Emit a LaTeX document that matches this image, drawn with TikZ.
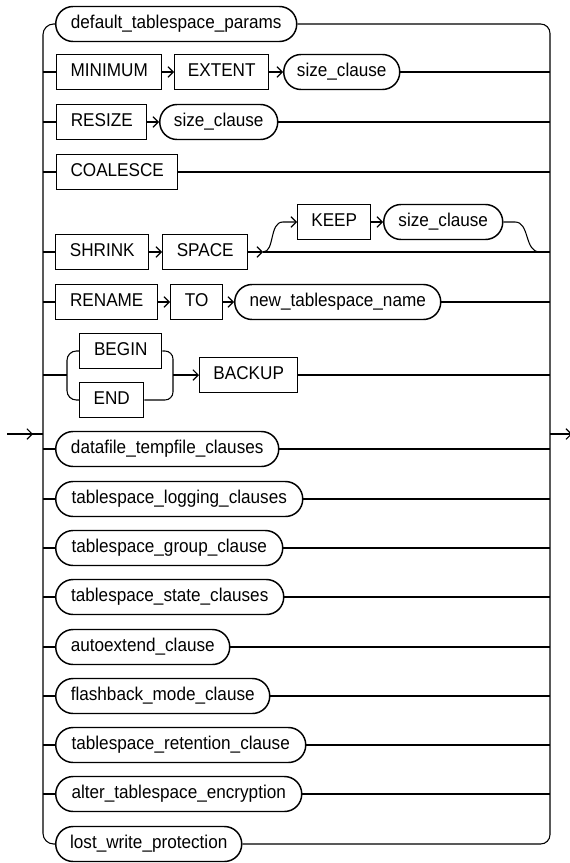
\documentclass[tikz,border=0pt]{standalone}
\usepackage{fontspec}
\setmainfont{Liberation Sans}
\newfontfamily\diafont[FakeStretch=0.925]{Liberation Sans}
\usetikzlibrary{arrows.meta}
\begin{document}
\begin{tikzpicture}[x=0.75pt,y=-0.75pt,
  line/.style={line width=0.8pt},
  arr/.style={line, -{Straight Barb[length=4pt,width=8pt]}},
  term/.style={draw, line width=1.1pt, rectangle, minimum height=26.25pt, inner sep=0pt, anchor=west, text height=9.9pt, text depth=2.9pt, font=\diafont\fontsize{13.9}{16}\selectfont},
  nterm/.style={term, rounded corners=13pt},
]
\useasboundingbox (0,0) rectangle (570,863);
\coordinate (L) at (43,0);
\coordinate (R) at (550,0);

% nodes
\node[nterm, minimum width=241*0.75pt] (n1) at (55,24) {default\_tablespace\_params};
\node[term, minimum width=105*0.75pt] (min) at (56,72) {MINIMUM};
\node[term, minimum width=94*0.75pt] (ext) at (174,72) {EXTENT};
\node[nterm, minimum width=116*0.75pt] (sc1) at (283,72) {size\_clause};
\node[term, minimum width=90*0.75pt] (res) at (56,122) {RESIZE};
\node[nterm, minimum width=118*0.75pt] (sc2) at (159,122) {size\_clause};
\node[term, minimum width=121*0.75pt] (coa) at (56,172) {COALESCE};
\node[term, minimum width=93*0.75pt] (shr) at (55,252) {SHRINK};
\node[term, minimum width=85*0.75pt] (spa) at (162,252) {SPACE};
\node[term, minimum width=73*0.75pt] (keep) at (297,222) {KEEP};
\node[nterm, minimum width=119*0.75pt] (sc3) at (383,222) {size\_clause};
\node[term, minimum width=102*0.75pt] (ren) at (55,302) {RENAME};
\node[term, minimum width=52*0.75pt] (to) at (170,302) {TO};
\node[nterm, minimum width=206*0.75pt] (ntn) at (234,302) {new\_tablespace\_name};
\node[term, minimum width=82*0.75pt] (beg) at (79,351) {BEGIN};
\node[term, minimum width=64*0.75pt] (end) at (79,400) {END};
\node[term, minimum width=98*0.75pt] (bak) at (199,375) {BACKUP};
\node[nterm, minimum width=223*0.75pt] (dtc) at (55,449) {datafile\_tempfile\_clauses};
\node[nterm, minimum width=247*0.75pt] (tlc) at (55,499) {tablespace\_logging\_clauses};
\node[nterm, minimum width=227*0.75pt] (tgc) at (55,548) {tablespace\_group\_clause};
\node[nterm, minimum width=228*0.75pt] (tsc) at (55,597) {tablespace\_state\_clauses};
\node[nterm, minimum width=174*0.75pt] (aec) at (55,647) {autoextend\_clause};
\node[nterm, minimum width=214*0.75pt] (fmc) at (55,696) {flashback\_mode\_clause};
\node[nterm, minimum width=250*0.75pt] (trc) at (55,745) {tablespace\_retention\_clause};
\node[nterm, minimum width=246*0.75pt] (ate) at (55,794) {alter\_tablespace\_encryption};
\node[nterm, minimum width=186*0.75pt] (lwp) at (55,844) {lost\_write\_protection};

% entry and exit
\coordinate (start) at (7,434);
\coordinate (tip) at (33,434);
\coordinate (ex) at (572,434);
\draw[line] (start) -- (start -| L);
\draw[arr] (start) -- (tip);
\draw[arr] (R |- start) -- (ex);

% rails
\draw[line, rounded corners=8pt] (n1.west) -| (L |- start) |- (lwp.west);
\draw[line, rounded corners=7pt] (n1.east) -| (R |- start) |- (lwp.east);

% left stubs
\foreach \n in {min,res,coa,shr,ren,dtc,tlc,tgc,tsc,aec,fmc,trc,ate}
  \draw[line] (\n.west -| L) -- (\n.west);
% right stubs
\foreach \n in {sc1,sc2,coa,ntn,bak,dtc,tlc,tgc,tsc,aec,fmc,trc,ate}
  \draw[line] (\n.east) -- (\n.east -| R);

% sequences
\draw[arr] (min) -- (ext);
\draw[arr] (ext) -- (sc1);
\draw[arr] (res) -- (sc2);
\draw[arr] (shr) -- (spa);
\draw[arr] (keep) -- (sc3);
\draw[arr] (ren) -- (to);
\draw[arr] (to) -- (ntn);

% shrink space branch
\coordinate (sj) at (263,252);
\coordinate (ku) at (283,222);
\coordinate (kr) at (515,222);
\coordinate (kd) at (540,252);
\draw[arr] (spa.east) -- (sj);
\draw[line] (sj) -- (sj -| R);
\draw[arr] (sj) .. controls (275,252) and (269,222) .. (ku) -- (keep.west);
\draw[line] (sc3.east) -- (kr) .. controls (530,222) and (524,252) .. (kd);

% begin / end
\coordinate (bj) at (67,375);
\coordinate (bk) at (173,375);
\draw[line] (bj -| L) -- (bj);
\draw[line, rounded corners=7pt] (beg.west) -| (bj) |- (end.west);
\draw[line, rounded corners=6pt] (beg.east) -| (bk) |- (end.east);
\draw[arr] (bk) -- (bak.west);
\end{tikzpicture}
\end{document}
